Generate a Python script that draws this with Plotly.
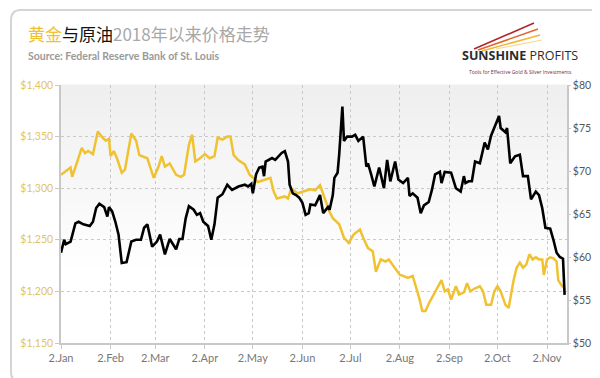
import plotly.graph_objects as go

# ---------------- data ----------------
gold_dates = ["2018-01-02","2018-01-08","2018-01-09","2018-01-15","2018-01-17","2018-01-19","2018-01-22","2018-01-25",
"2018-01-28","2018-01-30","2018-02-01","2018-02-02","2018-02-04","2018-02-06","2018-02-09","2018-02-11","2018-02-15",
"2018-02-18","2018-02-20","2018-02-23","2018-02-25","2018-03-01","2018-03-04","2018-03-06","2018-03-08","2018-03-11",
"2018-03-15","2018-03-18","2018-03-20","2018-03-23","2018-03-25","2018-03-27","2018-03-30","2018-04-02","2018-04-05",
"2018-04-08","2018-04-10","2018-04-13","2018-04-16","2018-04-18","2018-04-20","2018-04-23","2018-04-27","2018-04-30",
"2018-05-02","2018-05-05","2018-05-09","2018-05-13","2018-05-15","2018-05-17","2018-05-22","2018-05-24","2018-05-26",
"2018-05-30","2018-06-03","2018-06-07","2018-06-10","2018-06-13","2018-06-16","2018-06-19","2018-06-21","2018-06-23",
"2018-06-25","2018-06-28","2018-07-01","2018-07-04","2018-07-08","2018-07-10","2018-07-13","2018-07-16","2018-07-18",
"2018-07-21","2018-07-24","2018-07-26","2018-07-29","2018-08-02","2018-08-04","2018-08-07","2018-08-10","2018-08-12",
"2018-08-14","2018-08-16","2018-08-18","2018-08-20","2018-08-22","2018-08-24","2018-08-28","2018-08-30","2018-09-01",
"2018-09-03","2018-09-06","2018-09-08","2018-09-11","2018-09-13","2018-09-15","2018-09-18","2018-09-21","2018-09-23",
"2018-09-25","2018-09-28","2018-09-30","2018-10-02","2018-10-04","2018-10-07","2018-10-09","2018-10-12","2018-10-14",
"2018-10-16","2018-10-18","2018-10-20","2018-10-22","2018-10-24","2018-10-26","2018-10-28","2018-10-30","2018-10-31",
"2018-11-02","2018-11-04","2018-11-06","2018-11-08","2018-11-09","2018-11-11","2018-11-13"]
gold_values = [1313,1320,1311,1339,1334,1336,1333,1355,
1349,1346,1348,1331,1336,1329,1315,1318,1353,
1346,1332,1330,1329,1310,1321,1331,1321,1324,
1313,1311,1313,1342,1352,1326,1329,1333,1329,
1331,1349,1347,1350,1350,1332,1327,1323,1313,
1310,1306,1308,1310,1297,1290,1292,1290,1300,
1295,1297,1299,1298,1303,1290,1277,1271,1268,
1265,1252,1247,1255,1260,1252,1242,1239,1219,
1231,1229,1231,1225,1216,1215,1213,1215,1205,
1194,1181,1181,1188,1194,1200,1211,1200,1202,
1192,1205,1197,1199,1208,1200,1203,1205,1200,
1187,1187,1200,1205,1200,1187,1184,1210,1223,
1228,1223,1226,1236,1231,1233,1231,1231,1216,
1231,1233,1232,1229,1211,1206,1203]

oil_dates = ["2018-01-02","2018-01-04","2018-01-05","2018-01-08","2018-01-11","2018-01-13","2018-01-16","2018-01-20",
"2018-01-22","2018-01-24","2018-01-26","2018-01-29","2018-01-31","2018-02-01","2018-02-03","2018-02-05","2018-02-07",
"2018-02-09","2018-02-12","2018-02-15","2018-02-18","2018-02-21","2018-02-23","2018-02-25","2018-02-28","2018-03-03",
"2018-03-05","2018-03-08","2018-03-11","2018-03-13","2018-03-15","2018-03-17","2018-03-19","2018-03-21","2018-03-23",
"2018-03-26","2018-03-28","2018-03-30","2018-04-01","2018-04-04","2018-04-06","2018-04-08","2018-04-10","2018-04-13",
"2018-04-16","2018-04-19","2018-04-21","2018-04-23","2018-04-27","2018-04-29","2018-05-01","2018-05-02","2018-05-04",
"2018-05-06","2018-05-08","2018-05-09","2018-05-10","2018-05-12","2018-05-14","2018-05-16","2018-05-18","2018-05-20",
"2018-05-22","2018-05-24","2018-05-25","2018-05-27","2018-05-29","2018-05-31","2018-06-02","2018-06-04","2018-06-06",
"2018-06-07","2018-06-10","2018-06-13","2018-06-15","2018-06-18","2018-06-19","2018-06-21","2018-06-22","2018-06-24",
"2018-06-25","2018-06-27","2018-06-28","2018-06-30","2018-07-03","2018-07-05","2018-07-07","2018-07-10","2018-07-12",
"2018-07-13","2018-07-15","2018-07-17","2018-07-20","2018-07-23","2018-07-25","2018-07-27","2018-07-30","2018-08-01",
"2018-08-04","2018-08-07","2018-08-08","2018-08-10","2018-08-13","2018-08-15","2018-08-17","2018-08-20","2018-08-22",
"2018-08-24","2018-08-27","2018-08-28","2018-08-30","2018-09-03","2018-09-06","2018-09-09","2018-09-11","2018-09-12",
"2018-09-14","2018-09-16","2018-09-18","2018-09-21","2018-09-24","2018-09-26","2018-09-28","2018-10-01","2018-10-03",
"2018-10-04","2018-10-07","2018-10-08","2018-10-10","2018-10-13","2018-10-16","2018-10-18","2018-10-21","2018-10-23",
"2018-10-26","2018-10-28","2018-10-30","2018-11-01","2018-11-04","2018-11-06","2018-11-08","2018-11-10","2018-11-12",
"2018-11-13"]
oil_values = [60.5,62.0,61.5,61.8,63.9,64.1,63.8,63.6,
64.1,65.7,66.2,65.8,64.7,65.8,65.3,64.1,62.6,
59.3,59.4,61.8,62.0,62.0,63.4,63.8,61.2,61.8,
62.6,60.3,62.1,61.5,60.9,62.1,62.1,64.5,65.9,
65.5,64.9,65.1,64.1,63.6,62.0,63.8,66.9,67.3,
68.4,67.8,68.0,68.2,68.4,68.2,68.5,67.4,69.6,
70.4,70.5,69.4,71.1,71.3,71.5,71.3,71.7,72.1,
72.3,71.1,68.4,67.4,67.2,66.9,66.3,64.9,65.1,
66.1,66.0,67.2,65.1,65.8,65.5,67.2,69.2,69.8,
71.9,77.5,73.5,74.0,74.0,74.2,73.5,74.0,70.5,
70.9,69.6,68.2,70.4,68.0,71.3,68.8,71.1,69.0,
68.6,69.2,67.1,67.4,66.9,65.1,66.0,66.4,67.8,
69.6,69.9,68.6,69.9,69.8,68.0,67.6,69.4,68.6,
68.8,68.8,71.1,70.9,73.3,72.5,74.1,75.4,76.4,
75.0,74.5,75.0,70.9,71.7,71.9,69.4,69.4,66.7,
67.6,67.2,65.7,63.4,63.3,62.0,60.5,60.0,59.8,
55.6]

month_tick_dates = ["2018-01-02","2018-02-02","2018-03-02","2018-04-02","2018-05-02","2018-06-02",
                    "2018-07-02","2018-08-02","2018-09-02","2018-10-02","2018-11-02"]
month_tick_labels = ["2.Jan","2.Feb","2.Mar","2.Apr","2.May","2.Jun","2.Jul","2.Aug","2.Sep","2.Oct","2.Nov"]
gold_ticks = [1150, 1200, 1250, 1300, 1350, 1400]
gold_tick_labels = ["$1,150", "$1,200", "$1,250", "$1,300", "$1,350", "$1,400"]
oil_ticks = [50, 55, 60, 65, 70, 75, 80]
oil_tick_labels = ["$50", "$55", "$60", "$65", "$70", "$75", "$80"]

# ---------------- figure ----------------
W, H = 600, 378
L, R, T, B = 53, 41, 77, 43
pw, ph = W - L - R, H - T - B

def px(x):
    return (x - L) / pw

def py(y):
    return (H - B - y) / ph

GOLD = "#f0c232"
fig = go.Figure()
fig.add_trace(go.Scatter(x=gold_dates, y=gold_values, mode="lines",
                         line=dict(color=GOLD, width=2.5), name="Gold", yaxis="y"))
fig.add_trace(go.Scatter(x=oil_dates, y=oil_values, mode="lines",
                         line=dict(color="#000000", width=2.6), name="Oil", yaxis="y2"))

shapes = []
# gradient plot background
n = 24
for i in range(n):
    t0 = i / n
    t1 = (i + 1) / n
    frac = max(0.0, (t0 - 0.25) / 0.75)
    c = int(round(255 - 17 * frac))
    shapes.append(dict(type="rect", xref="paper", yref="paper", x0=0, x1=1, y0=t0, y1=t1 + 0.002,
                       fillcolor=f"rgb({c},{c},{c})", line=dict(width=0), layer="below"))

# rounded outer frame
x0, x1, y0, y1 = px(3), px(597), py(374), py(2)
rx, ry = 10 / pw, 10 / ph
path = (f"M {x0+rx},{y1} L {x1-rx},{y1} Q {x1},{y1} {x1},{y1-ry} L {x1},{y0+ry} Q {x1},{y0} {x1-rx},{y0} "
        f"L {x0+rx},{y0} Q {x0},{y0} {x0},{y0+ry} L {x0},{y1-ry} Q {x0},{y1} {x0+rx},{y1} Z")
shapes.append(dict(type="path", xref="paper", yref="paper", path=path,
                   line=dict(color="#d4d4d4", width=2), fillcolor="rgba(0,0,0,0)", layer="below"))

# logo swoosh
for (xa, ya, xb, yb, col, w) in [(466, 41, 526, 15, "#b0262a", 1.6),
                                 (470, 42, 530, 21, "#e0672a", 1.6),
                                 (474, 43, 532, 27, "#f3b53a", 1.6),
                                 (488, 41, 534, 32, "#f7d98a", 1.2)]:
    shapes.append(dict(type="line", xref="paper", yref="paper", x0=px(xa), y0=py(ya), x1=px(xb), y1=py(yb),
                       line=dict(color=col, width=w)))

annotations = [
    dict(xref="paper", yref="paper", x=px(18), y=py(25), xanchor="left", yanchor="middle", showarrow=False,
         text=f"<span style='color:{GOLD}'>黄金</span><span style='color:#111'>与原油</span>"
              "<span style='color:#a8a8a8'>2018年以来价格走势</span>",
         font=dict(family="Noto Sans CJK SC", size=17)),
    dict(xref="paper", yref="paper", x=px(18), y=py(48), xanchor="left", yanchor="middle", showarrow=False,
         text="<b>Source: Federal Reserve Bank of St. Louis</b>",
         font=dict(family="Lato", size=10.5, color="#9a9a9a")),
    dict(xref="paper", yref="paper", x=px(512), y=py(58), xanchor="center", yanchor="bottom", showarrow=False,
         text="<b>SUNSHINE</b> PROFITS", font=dict(family="Open Sans", size=12.5, color="#2b2b2b")),
    dict(xref="paper", yref="paper", x=px(512), y=py(59), xanchor="center", yanchor="top", showarrow=False,
         text="Tools for Effective Gold &amp; Silver Investments", font=dict(family="Open Sans", size=5, color="#7a2a2a")),
]

fig.update_layout(
    width=W, height=H,
    margin=dict(l=L, r=R, t=T, b=B),
    paper_bgcolor="white", plot_bgcolor="rgba(0,0,0,0)",
    showlegend=False,
    shapes=shapes, annotations=annotations,
    xaxis=dict(type="date", range=["2018-01-02", "2018-11-14 12:00"],
               tickvals=month_tick_dates, ticktext=month_tick_labels,
               tickfont=dict(family="Lato", size=11, color="#777777"),
               showgrid=True, gridcolor="#c9c9c9", griddash="dot", gridwidth=1,
               showline=True, linecolor="#c8c8c8", linewidth=1.5,
               ticks="outside", ticklen=4, tickcolor="#c8c8c8", zeroline=False),
    yaxis=dict(range=[1150, 1400], tickvals=gold_ticks, ticktext=gold_tick_labels,
               tickfont=dict(family="Lato", size=10.5, color="#e2c45e"),
               showgrid=True, gridcolor="#c9c9c9", griddash="dot", gridwidth=1,
               showline=True, linecolor="#c8c8c8", linewidth=1.5,
               ticks="outside", ticklen=4, tickcolor="#c8c8c8", zeroline=False),
    yaxis2=dict(range=[50, 80], tickvals=oil_ticks, ticktext=oil_tick_labels, overlaying="y", side="right",
                tickfont=dict(family="Lato", size=10.5, color="#555555"),
                showgrid=False, showline=True, linecolor="#c8c8c8", linewidth=1.5,
                ticks="outside", ticklen=2, tickcolor="#c8c8c8", zeroline=False),
)

fig.write_html("out.html")
